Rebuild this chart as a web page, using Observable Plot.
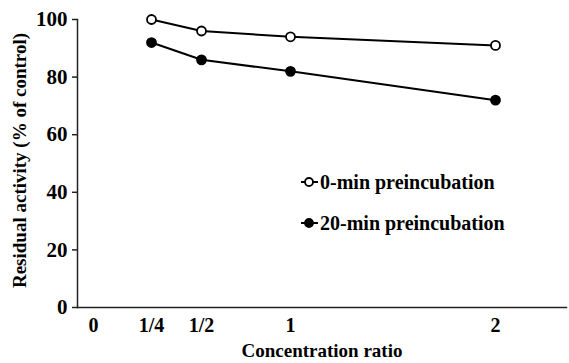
<!DOCTYPE html>
<html><head><meta charset="utf-8">
<script src="https://cdn.jsdelivr.net/npm/d3@7"></script>
<script src="https://cdn.jsdelivr.net/npm/@observablehq/plot@0.6"></script>
<style>
body{margin:0;background:#fff}
#chart svg{font-family:"Liberation Serif","Times New Roman",serif;font-weight:bold;color:#000}
</style>
</head><body><div id="chart"></div>
<script>
const ratios = [0.25, 0.5, 1, 2];
const preinc0 = [100, 96, 94, 91];
const preinc20 = [92, 86, 82, 72];
const tickValues = [0, 0.25, 0.5, 1, 2];
const tickLabels = ["0", "1/4", "1/2", "1", "2"];
const yTicks = [0, 20, 40, 60, 80, 100];
const seriesNames = ["0-min preincubation", "20-min preincubation"];

const rows = [
  ...ratios.map((r, i) => ({x: r, y: preinc0[i], s: seriesNames[0]})),
  ...ratios.map((r, i) => ({x: r, y: preinc20[i], s: seriesNames[1]}))
];

const chart = Plot.plot({
  width: 569,
  height: 363,
  marginLeft: 77,
  marginTop: 19,
  marginBottom: 56,
  marginRight: 3,
  style: {fontFamily: "Liberation Serif, serif", fontWeight: "bold", background: "#fff"},
  x: {type: "linear", domain: tickValues, range: [93, 151, 201, 290, 495]},
  y: {domain: [0, 100]},
  marks: [
    Plot.frame({anchor: "left", stroke: "#222", strokeWidth: 1.5}),
    Plot.frame({anchor: "bottom", stroke: "#222", strokeWidth: 1.5}),
    Plot.axisY({ticks: yTicks, tickSize: 5, tickPadding: 5, fontSize: 21, stroke: "#222", strokeWidth: 1.5, label: null}),
    Plot.axisX({ticks: tickValues, tickSize: 0, tickPadding: 10, fontSize: 20,
      tickFormat: d => tickLabels[tickValues.indexOf(d)], label: null}),
    Plot.text(["Residual activity (% of control)"], {frameAnchor: "left", rotate: -90, dx: -58, dy: -3,
      textAnchor: "middle", fontSize: 19, fontWeight: "bold"}),
    Plot.text(["Concentration ratio"], {frameAnchor: "bottom", dy: 49, fontSize: 19, fontWeight: "bold"}),
    Plot.line(rows, {x: "x", y: "y", z: "s", stroke: "#000", strokeWidth: 2}),
    Plot.dot(rows, {x: "x", y: "y", r: 4.5, stroke: "#000", strokeWidth: 1.8,
      fill: d => d.s === seriesNames[0] ? "#fff" : "#000"})
  ]
});

// legend inside plot area
const svg = d3.select(chart);
const leg = svg.append("g").attr("font-size", 20).attr("font-weight", "bold").attr("text-anchor", "start");
seriesNames.forEach((name, i) => {
  const cy = 182 + i * 41;
  const g = leg.append("g").attr("transform", `translate(0,${cy})`);
  g.append("line").attr("x1", 301).attr("x2", 318).attr("stroke", "#000").attr("stroke-width", 2);
  g.append("circle").attr("cx", 309).attr("r", 4).attr("stroke", "#000").attr("stroke-width", 1.8)
    .attr("fill", i === 0 ? "#fff" : "#000");
  g.append("text").attr("x", 320).attr("dy", "0.35em").text(name);
});

document.getElementById("chart").append(chart);
</script>
</body></html>
